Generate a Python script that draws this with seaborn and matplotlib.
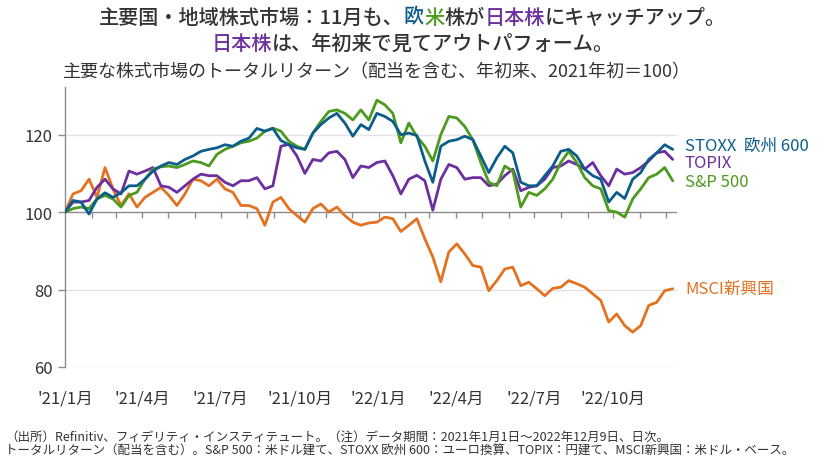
#importing the libraries
import pandas as pd
import numpy as np
import matplotlib.pyplot as plt
import matplotlib.transforms as mtransforms
import seaborn as sns

#sampling dates (about every 9 days, 2021/1/1 - 2022/12/9)
dates = pd.date_range('2021-01-01', '2022-12-09', periods=77)

#values (2021 start = 100)
stoxx = [100, 103, 102.6, 99.5, 103.4, 105, 103.8, 105, 106.8, 106.8,
         108.5, 110.6, 111.9, 112.8, 112.3, 113.6, 114.5, 115.7, 116.2, 116.6,
         117.4, 117, 118.3, 119.1, 121.6, 120.9, 121.6, 118.5, 117.4, 116.6,
         116.2, 120.4, 122.6, 124.3, 125.5, 123, 119.6, 122.6, 121.3, 125.5,
         124.7, 123.4, 120, 120.4, 119.8, 113.2, 107.7, 117, 118.3, 118.7,
         119.6, 118.7, 114.5, 110.2, 114, 117, 115.3, 107.7, 106.8, 106.8,
         109.4, 111.9, 115.7, 116.2, 114.5, 111.1, 109.4, 108.5, 102.6, 105.1,
         103.5, 108.5, 110.2, 113.6, 115.3, 117.4, 116.2]
sp500 = [100, 100.9, 101.3, 100.9, 103.4, 104.3, 103.4, 101.3, 104.3, 105.1,
         108.5, 111.1, 111.7, 111.9, 111.5, 112.3, 113.2, 112.8, 111.9, 114.9,
         116.2, 117, 117.9, 118.3, 119.1, 120.9, 121.7, 120.9, 118.3, 117,
         116.2, 120.4, 123.4, 126, 126.4, 125.5, 123.8, 126.4, 123.8, 128.9,
         127.7, 125.5, 117.9, 123, 119.5, 117, 113.2, 120, 124.7, 124.3,
         122.1, 118.7, 112.8, 107.7, 106.8, 111.9, 110.6, 101.3, 105.1, 104.3,
         106, 108.5, 112.8, 115.7, 112.8, 108.9, 106.8, 106, 100.4, 100,
         98.7, 103.4, 106, 108.9, 109.8, 111.5, 108.1]
topix = [100, 102.6, 102.6, 103, 106.4, 108.5, 106, 104.7, 110.6, 109.8,
         110.6, 111.5, 106.8, 106.4, 105.1, 106.8, 108.5, 109.8, 109.4, 109.4,
         107.7, 106.8, 108.1, 108.1, 108.9, 106, 106.8, 117, 117.5, 114.5,
         110, 113.6, 113.2, 115.3, 115.7, 113.6, 108.9, 111.9, 111.5, 112.8,
         113.2, 109.4, 104.7, 108.5, 109.5, 108.1, 100.5, 108.5, 112.3, 111.5,
         108.5, 108.9, 108.9, 106.8, 107.2, 109.4, 111.1, 105.5, 106.4, 106.8,
         108.5, 111.5, 111.9, 113.2, 112.3, 111.1, 112.8, 109.4, 106.8, 111.1,
         109.8, 110.2, 111.5, 113.2, 115.3, 115.7, 113.6]
msci_em = [100, 104.7, 105.5, 108.5, 103.8, 111.5, 106, 101.7, 104.7, 101.3,
           103.8, 105.1, 106.4, 104.3, 101.7, 104.7, 108.5, 108.1, 106.8, 108.5,
           106, 105.1, 101.7, 101.7, 100.9, 96.6, 102.6, 103.8, 100.9, 99.1,
           97.4, 100.9, 102.1, 100, 101.3, 99.1, 97.4, 96.6, 97.2, 97.4,
           98.7, 98.3, 95, 96.6, 98.3, 93.1, 88.4, 82, 89.7, 91.8,
           89.2, 86.2, 85.8, 79.7, 82.3, 85.3, 85.8, 81, 81.9, 80.2,
           78.4, 80.3, 80.6, 82.3, 81.5, 80.6, 78.9, 77.2, 71.6, 73.7,
           70.7, 69, 70.7, 75.9, 76.7, 79.7, 80.2]

series_names = ['MSCI新興国', 'TOPIX', 'S&P 500', 'STOXX  欧州 600']
colors = {'MSCI新興国': '#e3711f', 'TOPIX': '#6b2f9e',
          'S&P 500': '#4c9a1e', 'STOXX  欧州 600': '#0c5d8a'}
label_y = {'MSCI新興国': 80.2, 'TOPIX': 112.9, 'S&P 500': 108.0, 'STOXX  欧州 600': 117.3}

quarter_ticks = pd.date_range('2021-01-01', '2022-10-01', freq='QS')
quarter_labels = ["'21/1月", "'21/4月", "'21/7月", "'21/10月",
                  "'22/1月", "'22/4月", "'22/7月", "'22/10月"]

#long form table for seaborn
df = pd.DataFrame({'date': np.tile(dates, 4),
                   'value': msci_em + topix + sp500 + stoxx,
                   'series': np.repeat(series_names, len(dates))})

sns.set_theme(style='white')
plt.rcParams['font.family'] = ['Noto Sans CJK JP', 'DejaVu Sans']
text_col = '#333333'
axis_col = '#8c8c8c'

fig = plt.figure(figsize=(8.25, 4.64), dpi=100)
ax = fig.add_axes([0.0788, 0.2069, 0.7418, 0.6034])

sns.lineplot(data=df, x='date', y='value', hue='series', hue_order=series_names,
             palette=colors, linewidth=2.0, legend=False, ax=ax, zorder=3)

ax.set_xlim(pd.Timestamp('2021-01-01'), pd.Timestamp('2022-12-14'))
ax.set_ylim(60, 132.3)
ax.set_yticks([60, 80, 100, 120])
ax.set_xticks(quarter_ticks)
ax.set_xticklabels(quarter_labels)
ax.set_xlabel('')
ax.set_ylabel('')

#grid + the darker 100 base line with monthly ticks
for v in [60, 80, 120]:
    ax.axhline(v, color='#e3e3e3', linewidth=1.0, zorder=1)
ax.axhline(100, color=axis_col, linewidth=1.0, zorder=2)
months = pd.date_range('2021-02-01', '2022-12-01', freq='MS')
ax.vlines(months, 98.4, 100, color=axis_col, linewidth=1.0, zorder=2)

for s in ['top', 'right', 'bottom']:
    ax.spines[s].set_visible(False)
ax.spines['left'].set_color(axis_col)
ax.spines['left'].set_linewidth(1.0)
ax.tick_params(axis='y', length=5, width=1, color=axis_col, pad=4,
               labelsize=12, labelcolor=text_col, left=True)
ax.tick_params(axis='x', length=0, pad=16, labelsize=12, labelcolor=text_col)

#series labels at the right end
trans = mtransforms.blended_transform_factory(ax.transAxes, ax.transData)
for name in series_names:
    ax.text(1.013, label_y[name], name, transform=trans, color=colors[name],
            fontsize=12, va='center', ha='left')

#title with coloured words
def colored_line(y, parts, size, weight):
    renderer = fig.canvas.get_renderer()
    texts = [fig.text(0, y, s, color=c, fontsize=size, fontweight=weight,
                      va='center', ha='left') for s, c in parts]
    widths = [t.get_window_extent(renderer).width for t in texts]
    x = (fig.bbox.width - sum(widths)) / 2
    for t, w in zip(texts, widths):
        t.set_x(x / fig.bbox.width)
        x += w

colored_line(1 - 18 / 464, [('主要国・地域株式市場：11月も、', text_col),
                            ('欧', colors['STOXX  欧州 600']),
                            ('米', colors['S&P 500']),
                            ('株が', text_col),
                            ('日本株', colors['TOPIX']),
                            ('にキャッチアップ。', text_col)], 14.5, 'medium')
colored_line(1 - 44 / 464, [('日本株', colors['TOPIX']),
                            ('は、年初来で見てアウトパフォーム。', text_col)], 14.5, 'medium')

fig.text(63 / 825, 1 - 72 / 464, '主要な株式市場のトータルリターン（配当を含む、年初来、2021年初＝100）',
         fontsize=13, color=text_col, va='center', ha='left')

fig.text(5 / 825, 1 - 437 / 464,
         '（出所）Refinitiv、フィデリティ・インスティテュート。（注）データ期間：2021年1月1日～2022年12月9日、日次。',
         fontsize=9, color=text_col, va='center', ha='left')
fig.text(5 / 825, 1 - 451 / 464,
         'トータルリターン（配当を含む）。S&P 500：米ドル建て、STOXX 欧州 600：ユーロ換算、TOPIX：円建て、MSCI新興国：米ドル・ベース。',
         fontsize=9, color=text_col, va='center', ha='left')

fig.savefig('out.png', dpi=100)
